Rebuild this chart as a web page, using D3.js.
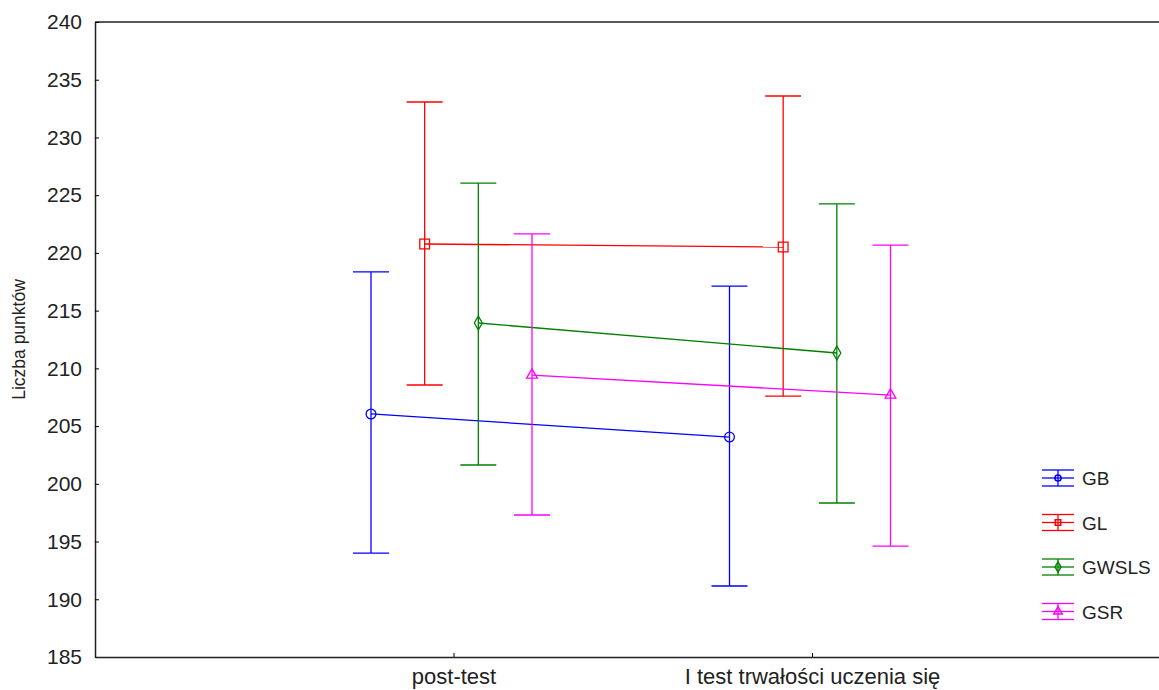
<!DOCTYPE html>
<head>
  <meta charset="utf-8">
  <script src="https://d3js.org/d3.v7.min.js"></script>
  <style>
    body { margin: 0; overflow: hidden; background: #fff; }
    text { font-family: "Liberation Sans", Arial, sans-serif; fill: #222; }
  </style>
</head>
<body>
  <svg width="1159" height="690"></svg>
  <script>
    const categories = ['post-test', 'I test trwałości uczenia się'];
    const groups = ['GB', 'GL', 'GWSLS', 'GSR'];
    const colors = ['#0000ff', '#ff0000', '#008000', '#ff00ff'];
    const means = [
      [206.05, 204.05],
      [220.77, 220.51],
      [213.93, 211.33],
      [209.42, 207.69]
    ];
    const upper = [
      [218.35, 217.13],
      [233.07, 233.59],
      [226.05, 224.24],
      [221.64, 220.68]
    ];
    const lower = [
      [194.0, 191.15],
      [208.56, 207.6],
      [201.63, 198.34],
      [197.3, 194.61]
    ];
    const yTicks = [185, 190, 195, 200, 205, 210, 215, 220, 225, 230, 235, 240];

    const svg = d3.select('svg');
    const margin = { left: 95, top: 22, bottom: 33 };
    const height = +svg.attr('height');
    const innerH = height - margin.top - margin.bottom;

    // the plot runs past the right edge of the picture
    const x = d3.scalePoint()
      .domain(['', ...categories, ' '])
      .range([margin.left, margin.left + 3 * 358.5]);
    const y = d3.scaleLinear().domain([185, 240]).range([margin.top + innerH, margin.top]);
    const offset = d3.scalePoint().domain(groups).range([-80.5, 80.5]);

    svg.append('line').attr('x1', margin.left).attr('x2', 1159)
      .attr('y1', y(240)).attr('y2', y(240)).attr('stroke', '#222').attr('stroke-width', 1.5);

    const yAxis = svg.append('g')
      .attr('transform', `translate(${margin.left},0)`)
      .call(d3.axisLeft(y).tickValues(yTicks).tickSizeInner(-4).tickSizeOuter(0).tickPadding(13));
    yAxis.select('.domain').attr('stroke', '#222').attr('stroke-width', 1.5);
    yAxis.selectAll('text').attr('font-size', 21).style('font-family', '"Liberation Sans", Arial, sans-serif').attr('fill', '#222');

    const xAxis = svg.append('g')
      .attr('transform', `translate(0,${y(185)})`)
      .call(d3.axisBottom(x).tickValues(categories).tickSizeInner(-4).tickSizeOuter(0).tickPadding(11));
    xAxis.select('.domain').attr('stroke', '#222').attr('stroke-width', 1.5);
    xAxis.selectAll('text').attr('font-size', 22).style('font-family', '"Liberation Sans", Arial, sans-serif').attr('fill', '#222');

    svg.append('text')
      .attr('transform', `translate(25,${(y(185) + y(240)) / 2}) rotate(-90)`)
      .attr('text-anchor', 'middle')
      .attr('font-size', 17.5)
      .text('Liczba punktów');

    const symbolTypes = [d3.symbolCircle, d3.symbolSquare, d3.symbolDiamond, d3.symbolTriangle];
    const symbolSizes = [75, 95, 55, 50];
    const cap = 18;

    groups.forEach((g, gi) => {
      const col = colors[gi];
      const px = ci => x(categories[ci]) + offset(g) - 2;
      const layer = svg.append('g');
      layer.append('path')
        .attr('d', d3.line().x((d, ci) => px(ci)).y(d => y(d))(means[gi]))
        .attr('fill', 'none').attr('stroke', col).attr('stroke-width', 1.3);
      categories.forEach((c, ci) => {
        const cx = px(ci);
        layer.append('line').attr('x1', cx).attr('x2', cx)
          .attr('y1', y(upper[gi][ci])).attr('y2', y(lower[gi][ci]))
          .attr('stroke', col).attr('stroke-width', 1.3);
        [upper[gi][ci], lower[gi][ci]].forEach(v => {
          layer.append('line').attr('x1', cx - cap).attr('x2', cx + cap)
            .attr('y1', y(v)).attr('y2', y(v))
            .attr('stroke', col).attr('stroke-width', 1.3);
        });
        layer.append('path')
          .attr('d', d3.symbol().type(symbolTypes[gi]).size(symbolSizes[gi])())
          .attr('transform', `translate(${cx},${y(means[gi][ci])})`)
          .attr('fill', 'none').attr('stroke', col).attr('stroke-width', 1.3);
      });
    });

    // legend
    const legend = svg.append('g').attr('transform', 'translate(1042,478)');
    groups.forEach((g, gi) => {
      const col = colors[gi];
      const row = legend.append('g').attr('transform', `translate(0,${gi * 44.5})`);
      [-8, 0, 8].forEach(dy => {
        row.append('line').attr('x1', 0).attr('x2', 32).attr('y1', dy).attr('y2', dy)
          .attr('stroke', col).attr('stroke-width', 1.3);
      });
      row.append('line').attr('x1', 16).attr('x2', 16).attr('y1', -8).attr('y2', 8)
        .attr('stroke', col).attr('stroke-width', 1.3);
      row.append('path')
        .attr('d', d3.symbol().type(symbolTypes[gi]).size(30)())
        .attr('transform', 'translate(16,0)')
        .attr('fill', 'none').attr('stroke', col).attr('stroke-width', 1.5);
      row.append('text').attr('x', 40).attr('y', 7).attr('font-size', 19).text(g);
    });
  </script>
</body>
